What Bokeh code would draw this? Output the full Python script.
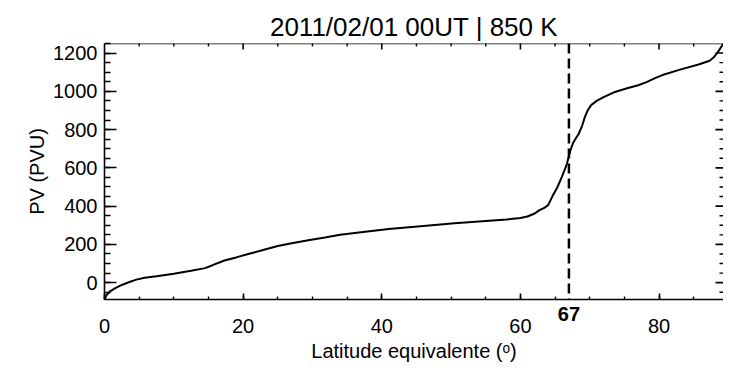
import math
from bokeh.plotting import figure
from bokeh.models import (SingleIntervalTicker, FixedTicker, LinearAxis, Span, Range1d)
from bokeh.embed import file_html
from bokeh.resources import INLINE

# Equivalent latitude (deg) and PV (PVU)
lat = [0.0, 0.3, 0.8, 1.5, 2.5, 3.5, 4.6, 5.8, 7.5, 10.0, 12.5, 14.5, 15.5, 17.3,
       19.0, 21.0, 23.0, 25.0, 27.0, 29.4, 31.8, 34.0, 37.0, 41.0, 46.0, 50.5,
       55.0, 58.0, 60.0, 61.0, 62.0, 62.7, 63.5, 64.0, 64.6, 65.3, 66.0, 66.7,
       67.2, 67.6, 68.0, 68.4, 68.9, 69.3, 69.7, 70.2, 71.0, 72.0, 73.5, 75.4,
       77.0, 78.2, 79.5, 80.5, 82.9, 85.7, 87.3, 87.9, 88.5, 89.3]
pv = [-88, -65, -45, -30, -12, 2, 16, 26, 34, 47, 62, 76, 90, 116,
      132, 152, 172, 192, 206, 222, 236, 250, 264, 280, 296, 310,
      322, 330, 338, 346, 360, 378, 392, 405, 450, 496, 554, 620,
      690, 730, 755, 777, 820, 865, 900, 928, 950, 970, 995, 1016,
      1032, 1048, 1070, 1085, 1112, 1140, 1160, 1178, 1206, 1250]
edge_lat = 67
title_text = "2011/02/01 00UT | 850 K"
x_label = "Latitude equivalente (ᵒ)"
y_label = "PV (PVU)"
x_lo, x_hi = 0, 89.3
y_lo, y_hi = -88, 1250

FONT = "Liberation Sans"

p = figure(width=723, height=367, x_range=Range1d(x_lo, x_hi), y_range=Range1d(y_lo, y_hi),
           output_backend="svg", toolbar_location=None, title=title_text,
           x_axis_location=None,
           min_border_left=104, min_border_right=0, min_border_top=43, min_border_bottom=68)
p.outline_line_color = None
p.xgrid.visible = False
p.ygrid.visible = False
p.background_fill_color = "white"
p.border_fill_color = "white"

p.title.text_font = FONT
p.title.text_font_size = "26px"
p.title.text_font_style = "normal"
p.title.text_color = "black"
p.title.align = "center"
p.title.standoff = 4
p.title.offset = 12

def style_axis(ax, major_in, minor_in):
    ax.axis_line_color = "black"
    ax.axis_line_width = 1.6
    ax.major_tick_line_color = "black"
    ax.minor_tick_line_color = "black"
    ax.major_tick_line_width = 1.6
    ax.minor_tick_line_width = 1.4
    ax.major_tick_in = major_in
    ax.major_tick_out = 0
    ax.minor_tick_in = minor_in
    ax.minor_tick_out = 0
    ax.major_label_text_font = FONT
    ax.major_label_text_color = "black"
    ax.major_label_text_font_size = "20px"
    ax.axis_label_text_font = FONT
    ax.axis_label_text_font_size = "20px"
    ax.axis_label_text_font_style = "normal"
    ax.axis_label_text_color = "black"

# main bottom axis (line, ticks, numeric labels), next to the frame
xb = LinearAxis(ticker=SingleIntervalTicker(interval=20, num_minor_ticks=4))
style_axis(xb, 6, 3)
xb.major_label_standoff = 19
p.add_layout(xb, "below")

# second bottom axis: only the bold "67" mark, lifted up, plus the axis title
xm = LinearAxis(ticker=FixedTicker(ticks=[edge_lat], minor_ticks=[]))
style_axis(xm, 0, 0)
xm.axis_line_alpha = 0
xm.major_tick_line_alpha = 0
xm.minor_tick_line_alpha = 0
xm.major_label_text_font_style = "bold"
xm.major_label_standoff = -29
xm.axis_label = x_label
xm.axis_label_standoff = 16
p.add_layout(xm, "below")

yl = p.yaxis[0]
yl.ticker = SingleIntervalTicker(interval=200, num_minor_ticks=4)
style_axis(yl, 12, 6)
yl.major_label_standoff = 7
yl.axis_label = y_label
yl.axis_label_standoff = 2

# top border line and inward ticks on the top and right edges (mirror of the axes)
p.add_layout(Span(location=y_hi, dimension="width", line_color="black", line_width=1.6))
top_major = [v for v in range(20, 90, 20)]
top_minor = [v for v in range(5, 90, 5) if v % 20]
right_major = [v for v in range(0, 1250, 200)]
right_minor = [v for v in range(-50, 1250, 50) if v % 200]
p.scatter(top_major, [y_hi] * len(top_major), marker="dash", size=12, angle=math.pi / 2,
          line_color="black", line_width=1.6)
p.scatter(top_minor, [y_hi] * len(top_minor), marker="dash", size=6, angle=math.pi / 2,
          line_color="black", line_width=1.4)
p.scatter([x_hi] * len(right_major), right_major, marker="dash", size=16,
          line_color="black", line_width=1.6)
p.scatter([x_hi] * len(right_minor), right_minor, marker="dash", size=8,
          line_color="black", line_width=1.4)

p.line(lat, pv, line_color="black", line_width=2)

p.add_layout(Span(location=edge_lat, dimension="height", line_color="black",
                  line_width=2.5, line_dash="10 5"))

open("out.html", "w").write(file_html(p, INLINE))
